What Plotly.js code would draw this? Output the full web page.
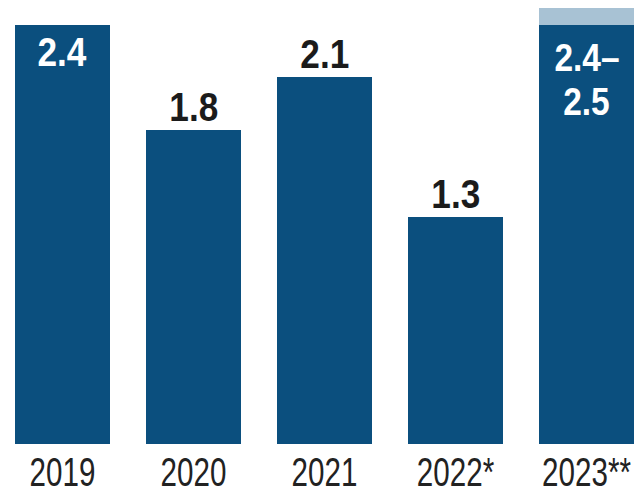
<!DOCTYPE html>
<html>
<head>
<meta charset="utf-8">
<script src="https://cdn.plot.ly/plotly-3.0.1.min.js"></script>
<style>html,body{margin:0;padding:0;background:#fff;}#chart{width:643px;height:493px;}</style>
</head>
<body>
<div id="chart"></div>
<script>
const categories = ["2019", "2020", "2021", "2022*", "2023**"];
const baseValues = [2.4, 1.8, 2.1, 1.3, 2.4];
const rangeExtra = [0, 0, 0, 0, 0.1];
const labels = ["2.4", "1.8", "2.1", "1.3", "2.4–<br>2.5"];
const labelInside = [true, false, false, false, true];

const DARK = "#0b4f7e";
const LIGHT = "#a8c2d4";
const boldFont = "'Liberation Sans', Arial, sans-serif";
const tickFont = "'Liberation Sans', Arial, sans-serif";

const traces = [
  {type: "bar", x: categories, y: baseValues, marker: {color: DARK}, hoverinfo: "skip"},
  {type: "bar", x: categories, y: rangeExtra, marker: {color: LIGHT}, hoverinfo: "skip"}
];

const annotations = [];
categories.forEach((c, i) => {
  const inside = labelInside[i];
  const lines = labels[i].split("<br>");
  const multi = lines.length > 1;
  lines.forEach((ln, j) => {
    let shift;
    if (!inside) shift = 23;
    else if (!multi) shift = -27;
    else shift = -33 - 44 * j;
    annotations.push({
      x: i, y: baseValues[i], xref: "x", yref: "y",
      text: "<b>" + ln + "</b>", showarrow: false,
      yanchor: "middle", yshift: shift, borderpad: 0,
      font: {family: boldFont, size: multi ? 38 : 40, color: inside ? "#ffffff" : "#1b1b1b"}
    });
  });
});

const layout = {
  width: 643, height: 493,
  margin: {l: 0, r: 0, t: 0, b: 49},
  paper_bgcolor: "#ffffff", plot_bgcolor: "#ffffff",
  barmode: "stack", bargap: 0.275, showlegend: false,
  xaxis: {type: "category", range: [-0.477, 4.431], showgrid: false, zeroline: false,
          showline: false, ticks: "", tickfont: {family: tickFont, size: 40, color: "#222222"},
          ticklabelstandoff: 1, fixedrange: true},
  yaxis: {range: [0, 2.543], visible: false, showgrid: false, zeroline: false, fixedrange: true},
  annotations: annotations
};

function squeeze(sel, s) {
  document.querySelectorAll(sel).forEach(t => {
    const b = t.getBBox();
    const cx = b.x + b.width / 2;
    const old = t.getAttribute("transform") || "";
    t.setAttribute("transform", old + " translate(" + cx + ",0) scale(" + s + ",1) translate(" + (-cx) + ",0)");
  });
}

Plotly.newPlot("chart", traces, layout, {displayModeBar: false, staticPlot: true}).then(() => {
  squeeze("#chart .xtick text", 0.74);
  squeeze("#chart .annotation-text", 0.88);
});
</script>
</body>
</html>
